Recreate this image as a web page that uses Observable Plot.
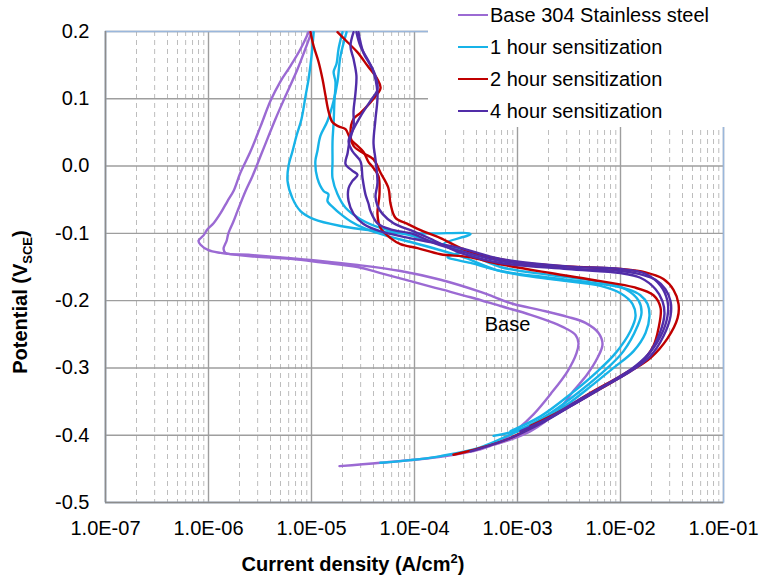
<!DOCTYPE html>
<html>
<head>
<meta charset="utf-8">
<script src="https://cdn.jsdelivr.net/npm/d3@7"></script>
<script src="https://cdn.jsdelivr.net/npm/@observablehq/plot@0.6"></script>
<style>
  body { margin: 0; background: #fff; }
  #wrap { position: relative; width: 759px; height: 579px; font-family: Arial, "Liberation Sans", sans-serif; color: #000; overflow: hidden; }
  #chart svg { display: block; }
  .legend { position: absolute; left: 428px; top: 0; width: 331px; height: 127px; background: #fff; }
  .lg-line { position: absolute; left: 30px; width: 30px; height: 2.5px; }
  .lg-text { position: absolute; left: 62px; font-size: 20px; line-height: 20px; white-space: nowrap; }
  .ytitle { position: absolute; left: -100px; top: 292px; width: 240px; height: 20px; line-height: 20px; text-align: center; font-weight: bold; font-size: 20px; transform: rotate(-90deg); white-space: nowrap; }
  .xtitle { position: absolute; left: 153px; top: 554px; width: 400px; height: 20px; line-height: 20px; text-align: center; font-weight: bold; font-size: 20px; white-space: nowrap; }
  sub, sup { font-size: 13px; line-height: 0; }
</style>
</head>
<body>
<div id="wrap">
  <div id="chart"></div>
  <div class="legend" id="legend"></div>
  <div class="ytitle">Potential (V<sub>SCE</sub>)</div>
  <div class="xtitle">Current density (A/cm<sup>2</sup>)</div>
</div>
<script>
// ---- series names and tick labels ----
const seriesNames = ["Base 304 Stainless steel", "1 hour sensitization", "2 hour sensitization", "4 hour sensitization"];
const seriesColors = ["#9b6ad3", "#17b3e8", "#c00000", "#512da8"];
const xTicks = [1e-7, 1e-6, 1e-5, 1e-4, 1e-3, 1e-2, 1e-1];
const xTickLabels = ["1.0E-07", "1.0E-06", "1.0E-05", "1.0E-04", "1.0E-03", "1.0E-02", "1.0E-01"];
const yTicks = [-0.5, -0.4, -0.3, -0.2, -0.1, 0.0, 0.1, 0.2];
const yTickLabels = ["-0.5", "-0.4", "-0.3", "-0.2", "-0.1", "0.0", "0.1", "0.2"];

// ---- traces: [current density (A/cm2), potential (V_SCE)] ----
const base1 = [[1.87e-5,-0.446],[4.67e-5,-0.441],[1.79e-4,-0.432],[4.37e-4,-0.421],[6.84e-4,-0.409],[1.0e-3,-0.391],[1.43e-3,-0.369],[2.09e-3,-0.339],[3.06e-3,-0.305],[3.74e-3,-0.278],[3.91e-3,-0.263],[3.66e-3,-0.251],[2.92e-3,-0.241],[2.24e-3,-0.233],[1.34e-3,-0.221],[6.84e-4,-0.208],[3.5e-4,-0.195],[1.79e-4,-0.183],[9.15e-5,-0.171],[4.67e-5,-0.159],[2.8e-5,-0.150],[1.22e-5,-0.143],[6.26e-6,-0.138],[2.56e-6,-0.134],[1.31e-6,-0.129],[1.0e-6,-0.125],[8.37e-7,-0.117],[8.0e-7,-0.111],[8.95e-7,-0.103],[9.78e-7,-0.094],[1.12e-6,-0.085],[1.31e-6,-0.070],[1.53e-6,-0.052],[1.75e-6,-0.037],[2.04e-6,-0.010],[2.56e-6,0.022],[3.2e-6,0.059],[4.0e-6,0.097],[5.0e-6,0.126],[6.26e-6,0.149],[7.82e-6,0.174],[9.36e-6,0.199]];
const base2 = [[6.0e-4,-0.414],[1.34e-3,-0.394],[2.45e-3,-0.364],[3.5e-3,-0.334],[4.78e-3,-0.309],[5.98e-3,-0.285],[6.69e-3,-0.265],[6.12e-3,-0.248],[4.57e-3,-0.233],[3.06e-3,-0.224],[1.67e-3,-0.214],[9.15e-4,-0.205],[4.37e-4,-0.187],[1.79e-4,-0.169],[7.31e-5,-0.156],[2.8e-5,-0.147],[1.22e-5,-0.141],[6.26e-6,-0.137],[2.56e-6,-0.132],[1.46e-6,-0.129],[1.40e-6,-0.123],[1.5e-6,-0.111],[1.56e-6,-0.100],[1.75e-6,-0.082],[1.91e-6,-0.067],[2.29e-6,-0.037],[2.67e-6,-0.015],[3.34e-6,0.022],[4.47e-6,0.070],[5.59e-6,0.104],[7.31e-6,0.144],[8.56e-6,0.171],[1.0e-5,0.199]];
const hr1a = [[4.67e-5,-0.441],[9.15e-5,-0.437],[1.79e-4,-0.431],[4.37e-4,-0.418],[9.15e-4,-0.397],[1.67e-3,-0.379],[3.06e-3,-0.354],[5.47e-3,-0.324],[8.56e-3,-0.300],[1.34e-2,-0.275],[1.75e-2,-0.248],[1.91e-2,-0.223],[1.83e-2,-0.205],[1.56e-2,-0.192],[1.17e-2,-0.183],[6.4e-3,-0.175],[2.09e-3,-0.166],[6.84e-4,-0.156],[3.5e-4,-0.144],[2.09e-4,-0.135],[2.99e-4,-0.126],[1.91e-4,-0.116],[3.5e-4,-0.101],[1.53e-4,-0.100],[7.31e-5,-0.100],[4.67e-5,-0.097],[1.91e-5,-0.089],[1.05e-5,-0.079],[7.82e-6,-0.067],[6.54e-6,-0.048],[5.85e-6,-0.022],[5.98e-6,0.000],[6.54e-6,0.022],[7.15e-6,0.045],[8.0e-6,0.070],[8.75e-6,0.104],[9.36e-6,0.129],[1.0e-5,0.163],[1.05e-5,0.199]];
const hr1b = [[5.85e-4,-0.401],[1.07e-3,-0.391],[2.09e-3,-0.367],[4.09e-3,-0.334],[7.48e-3,-0.300],[1.07e-2,-0.275],[1.46e-2,-0.238],[1.60e-2,-0.218],[1.50e-2,-0.200],[1.12e-2,-0.183],[6.4e-3,-0.172],[2.09e-3,-0.162],[6.84e-4,-0.150],[2.8e-4,-0.125],[2.09e-4,-0.119],[9.78e-5,-0.104],[4.67e-5,-0.092],[2.99e-5,-0.079],[2.14e-5,-0.062],[1.79e-5,-0.042],[1.6e-5,-0.018],[1.6e-5,0.007],[1.6e-5,0.037],[1.64e-5,0.065],[1.67e-5,0.097],[1.71e-5,0.125],[1.64e-5,0.140],[1.75e-5,0.152],[1.83e-5,0.174],[2.0e-5,0.199]];
const hr1c = [[8.56e-4,-0.394],[1.67e-3,-0.372],[3.27e-3,-0.339],[5.98e-3,-0.305],[8.95e-3,-0.278],[1.25e-2,-0.245],[1.40e-2,-0.223],[1.31e-2,-0.205],[1.0e-2,-0.189],[6.4e-3,-0.178],[2.09e-3,-0.168],[6.84e-4,-0.156],[2.8e-4,-0.134],[9.78e-5,-0.114],[5.47e-5,-0.104],[3.2e-5,-0.092],[2.39e-5,-0.082],[1.91e-5,-0.071],[1.64e-5,-0.062],[1.43e-5,-0.052],[1.46e-5,-0.042],[1.31e-5,-0.037],[1.14e-5,-0.018],[1.09e-5,0.007],[1.14e-5,0.022],[1.22e-5,0.045],[1.43e-5,0.067],[1.64e-5,0.097],[1.79e-5,0.126],[1.91e-5,0.163],[2.19e-5,0.199]];
const hr2a = [[2.39e-4,-0.429],[4.37e-4,-0.419],[8.0e-4,-0.406],[1.67e-3,-0.382],[3.5e-3,-0.354],[6.4e-3,-0.331],[1.25e-2,-0.305],[1.96e-2,-0.285],[2.86e-2,-0.256],[3.58e-2,-0.226],[3.66e-2,-0.205],[3.27e-2,-0.184],[2.61e-2,-0.168],[1.75e-2,-0.158],[1.0e-2,-0.153],[3.06e-3,-0.149],[1.0e-3,-0.143],[3.27e-4,-0.126],[1.79e-4,-0.107],[1.22e-4,-0.097],[8.56e-5,-0.086],[6.54e-5,-0.077],[5.85e-5,-0.056],[5.59e-5,-0.033],[4.68e-5,-0.010],[4.0e-5,0.010],[3.2e-5,0.019],[2.56e-5,0.030],[2.39e-5,0.049],[2.56e-5,0.070],[2.99e-5,0.079],[4.0e-5,0.100],[4.68e-5,0.116],[4.37e-5,0.129],[3.5e-5,0.149],[2.8e-5,0.169],[2.24e-5,0.184],[1.79e-5,0.199]];
const hr2b = [[1.34e-3,-0.386],[2.61e-3,-0.364],[5.11e-3,-0.337],[1.0e-2,-0.312],[1.56e-2,-0.293],[2.09e-2,-0.267],[2.34e-2,-0.241],[2.45e-2,-0.211],[2.09e-2,-0.192],[1.34e-2,-0.180],[6.4e-3,-0.171],[2.09e-3,-0.159],[6.84e-4,-0.146],[3.27e-4,-0.135],[1.79e-4,-0.131],[1.07e-4,-0.122],[7.31e-5,-0.116],[5.85e-5,-0.107],[4.68e-5,-0.092],[4.37e-5,-0.071],[4.57e-5,-0.042],[4.47e-5,-0.015],[3.91e-5,-0.001],[3.58e-5,0.006],[3.2e-5,0.021],[2.8e-5,0.030],[2.39e-5,0.040],[2.14e-5,0.055],[1.83e-5,0.059],[1.60e-5,0.065],[1.46e-5,0.082],[1.37e-5,0.104],[1.28e-5,0.129],[1.17e-5,0.155],[1.05e-5,0.178],[9.78e-6,0.199]];
const hr4a = [[1.67e-3,-0.382],[3.27e-3,-0.357],[6.4e-3,-0.331],[1.12e-2,-0.309],[1.75e-2,-0.285],[2.45e-2,-0.253],[2.86e-2,-0.223],[2.86e-2,-0.201],[2.45e-2,-0.178],[1.75e-2,-0.160],[1.0e-2,-0.153],[3.06e-3,-0.149],[6.84e-4,-0.138],[2.8e-4,-0.122],[1.22e-4,-0.111],[7.31e-5,-0.104],[4.68e-5,-0.097],[3.2e-5,-0.086],[2.56e-5,-0.071],[2.29e-5,-0.052],[2.29e-5,-0.033],[2.50e-5,-0.022],[2.80e-5,-0.013],[2.50e-5,-0.007],[2.14e-5,0.003],[2.24e-5,0.019],[2.34e-5,0.037],[2.56e-5,0.059],[2.56e-5,0.082],[2.67e-5,0.108],[2.73e-5,0.134],[2.56e-5,0.159],[2.39e-5,0.178],[2.56e-5,0.199]];
const hr4b = [[1.07e-3,-0.394],[2.09e-3,-0.373],[4.09e-3,-0.346],[8.0e-3,-0.321],[1.40e-2,-0.297],[1.96e-2,-0.275],[2.45e-2,-0.245],[2.67e-2,-0.220],[2.56e-2,-0.201],[2.19e-2,-0.183],[1.56e-2,-0.166],[1.0e-2,-0.159],[3.06e-3,-0.153],[6.84e-4,-0.144],[2.8e-4,-0.129],[1.43e-4,-0.108],[9.78e-5,-0.097],[6.26e-5,-0.085],[4.89e-5,-0.071],[4.37e-5,-0.059],[4.18e-5,-0.045],[4.37e-5,-0.025],[4.18e-5,0.010],[4.0e-5,0.034],[4.18e-5,0.070],[4.37e-5,0.108],[3.91e-5,0.144],[3.2e-5,0.168],[2.86e-5,0.199]];
const hr4c = [[3.5e-4,-0.424],[8.0e-4,-0.406],[1.67e-3,-0.383],[3.5e-3,-0.354],[7.48e-3,-0.324],[1.17e-2,-0.308],[1.96e-2,-0.282],[2.61e-2,-0.253],[3.06e-2,-0.223],[3.06e-2,-0.201],[2.73e-2,-0.183],[2.19e-2,-0.169],[1.67e-2,-0.162],[1.0e-2,-0.156],[3.06e-3,-0.152],[6.84e-4,-0.141],[3.27e-4,-0.129],[1.53e-4,-0.114],[9.78e-5,-0.101],[5.85e-5,-0.094],[4.37e-5,-0.085],[3.74e-5,-0.067],[3.58e-5,-0.056],[3.34e-5,-0.042],[3.13e-5,-0.018],[2.99e-5,0.007],[2.5e-5,0.022],[2.29e-5,0.037],[2.56e-5,0.055],[2.99e-5,0.074],[3.74e-5,0.097],[4.37e-5,0.114],[4.18e-5,0.134],[3.58e-5,0.156],[2.99e-5,0.178],[2.73e-5,0.199]];

// annotation
const noteText = ["Base"];
const noteJ = [8.0e-4];
const noteE = [-0.235];

// ---- build table ----
const traces = [
  {id: "b1", s: 0, pts: base1}, {id: "b2", s: 0, pts: base2},
  {id: "c1", s: 1, pts: hr1a}, {id: "c2", s: 1, pts: hr1b}, {id: "c3", s: 1, pts: hr1c},
  {id: "r1", s: 2, pts: hr2a}, {id: "r2", s: 2, pts: hr2b},
  {id: "d1", s: 3, pts: hr4a}, {id: "d2", s: 3, pts: hr4b}, {id: "d3", s: 3, pts: hr4c}
];
const rows = [];
for (const t of traces) for (const [j, e] of t.pts) rows.push({trace: t.id, series: seriesNames[t.s], j, e});
const notes = noteText.map((text, i) => ({text, j: noteJ[i], e: noteE[i]}));

const xMinor = [];
for (let k = 0; k < xTicks.length - 1; k++) for (let m = 2; m <= 9; m++) xMinor.push(m * xTicks[k]);

const chart = Plot.plot({
  width: 759,
  height: 579,
  marginLeft: 105,
  marginRight: 36,
  marginTop: 31,
  marginBottom: 77,
  style: {fontFamily: 'Arial, "Liberation Sans", sans-serif', fontSize: "20px", color: "#000", background: "#fff", overflow: "visible"},
  x: {type: "log", domain: [1e-7, 1e-1]},
  y: {domain: [-0.5, 0.2]},
  color: {domain: seriesNames, range: seriesColors},
  marks: [
    Plot.ruleX(xMinor, {stroke: "#bdbdbd", strokeDasharray: "5,4", strokeWidth: 1}),
    Plot.ruleX(xTicks, {stroke: "#9e9e9e", strokeWidth: 1.4}),
    Plot.ruleY(yTicks, {stroke: "#9e9e9e", strokeWidth: 1.4}),
    Plot.frame({stroke: "#9ab7dc", strokeWidth: 1.5}),
    Plot.ruleX([xTicks[0]], {stroke: "#8c8c8c", strokeWidth: 1.5}),
    Plot.ruleY([yTicks[0]], {stroke: "#8c8c8c", strokeWidth: 1.5}),
    Plot.line(rows, {x: "j", y: "e", z: "trace", stroke: "series", strokeWidth: 2.4, curve: "catmull-rom"}),
    Plot.text(notes, {x: "j", y: "e", text: "text", fontSize: 20, fill: "#000"}),
    Plot.axisX({ticks: xTicks, tickFormat: d => xTickLabels[Math.round(Math.log10(d)) + 7], tickSize: 0, tickPadding: 18, label: null}),
    Plot.axisY({ticks: yTicks, tickFormat: d => yTickLabels[Math.round(d * 10) + 5], tickSize: 0, tickPadding: 16, label: null})
  ]
});
document.getElementById("chart").appendChild(chart);

// ---- legend ----
const legend = document.getElementById("legend");
const legendY = [15, 47, 79, 111];
seriesNames.forEach((name, i) => {
  const ln = document.createElement("div");
  ln.className = "lg-line";
  ln.style.top = (legendY[i] - 1.25) + "px";
  ln.style.background = seriesColors[i];
  legend.appendChild(ln);
  const tx = document.createElement("div");
  tx.className = "lg-text";
  tx.style.top = (legendY[i] - 10) + "px";
  tx.textContent = name;
  legend.appendChild(tx);
});
</script>
</body>
</html>
